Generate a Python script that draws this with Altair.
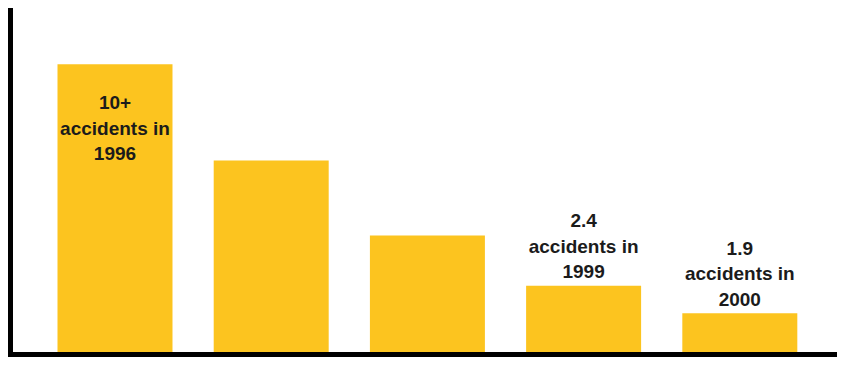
import altair as alt
import pandas as pd

years = ["1996", "1997", "1998", "1999", "2000"]
bar_heights = [10.04, 6.70, 4.09, 2.34, 1.38]
labels = ["10+\naccidents in\n1996", "", "", "2.4\naccidents in\n1999", "1.9\naccidents in\n2000"]

df = pd.DataFrame({"year": years, "value": bar_heights, "label": labels})

W, H = 829, 345
YELLOW = "#FCC41F"

xs = alt.X("year:N", sort=years, axis=None,
           scale=alt.Scale(paddingInner=0.2638, paddingOuter=0.2855, align=0.555))
ys = alt.Y("value:Q", axis=None, scale=alt.Scale(domain=[0, 12], nice=False))

base = alt.Chart(df)

bars = base.mark_bar(color=YELLOW).encode(x=xs, y=ys)

text_style = dict(font="Liberation Sans", fontWeight="bold", fontSize=19, lineHeight=25.5,
                  lineBreak="\n", baseline="alphabetic", align="center", color="#1b1b1b")

text_inside = base.transform_filter(alt.datum.year == "1996").mark_text(
    dy=45, **text_style
).encode(x=xs, y=ys, text="label:N")

text_above = base.transform_filter(
    (alt.datum.year == "1999") | (alt.datum.year == "2000")
).mark_text(
    dy=-58.5, **text_style
).encode(x=xs, y=ys, text="label:N")

one = alt.Chart(pd.DataFrame({"k": [0]}))
left_line = one.mark_rule(color="black", strokeWidth=5).encode(
    x=alt.value(2.5), y=alt.value(0), y2=alt.value(H + 4))
bottom_line = one.mark_rule(color="black", strokeWidth=5).encode(
    x=alt.value(0), x2=alt.value(W), y=alt.value(H + 1.5))

chart = alt.layer(bars, text_inside, text_above, left_line, bottom_line).properties(
    width=W, height=H,
    background="white",
    autosize=alt.AutoSizeParams(type="none"),
    padding={"left": 0, "top": 0, "right": 0, "bottom": 4},
).configure_view(stroke=None)

chart.save("out.html", embed_options={"renderer": "svg", "actions": False})
